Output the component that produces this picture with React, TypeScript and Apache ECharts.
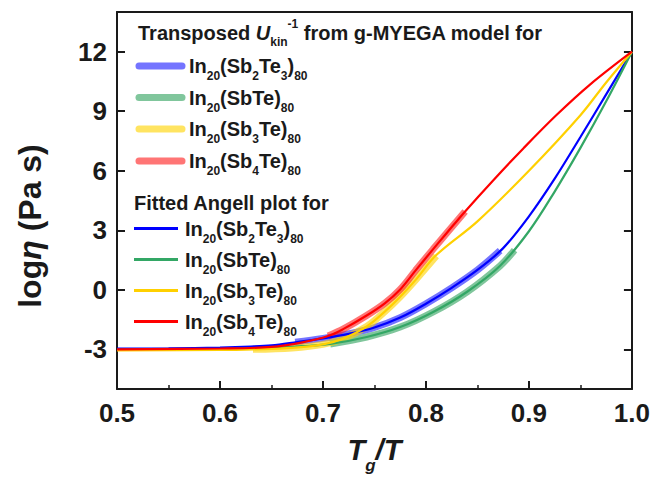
import React, { useEffect, useRef } from 'react';
import * as echarts from 'echarts';

const FONT = "'Liberation Sans', Arial, Helvetica, sans-serif";
const INK = '#1a1a1a';

// ---- data ----
const seriesKeys = ['Sb2Te3', 'SbTe', 'Sb3Te', 'Sb4Te'];
const legendLabels = [
  '{m|In}{s|20}{m|(Sb}{s|2}{m|Te}{s|3}{m|)}{s|80}',
  '{m|In}{s|20}{m|(SbTe)}{s|80}',
  '{m|In}{s|20}{m|(Sb}{s|3}{m|Te)}{s|80}',
  '{m|In}{s|20}{m|(Sb}{s|4}{m|Te)}{s|80}',
];
const thinColors = ['#0000ff', '#33a765', '#ffd000', '#ff0000'];
const thickColors = ['rgba(30,30,255,0.62)', 'rgba(44,160,90,0.6)', 'rgba(255,212,0,0.62)', 'rgba(255,25,25,0.6)'];

const xTickLabels = [0.5, 0.6, 0.7, 0.8, 0.9, 1.0];
const yTickValues = [-3, 0, 3, 6, 9, 12];

// Fitted Angell plot (thin lines) [Tg/T, log eta]
const angellSb2Te3 = [
  [0.5, -2.97], [0.55, -2.95], [0.6, -2.91], [0.63, -2.86], [0.65, -2.8], [0.675, -2.63],
  [0.7, -2.45], [0.725, -2.22], [0.75, -1.9], [0.775, -1.4], [0.8, -0.7], [0.825, 0.1],
  [0.85, 1.0], [0.875, 2.1], [0.9, 3.7], [0.925, 5.6], [0.95, 7.7], [0.975, 9.85], [1.0, 12],
];
const angellSbTe = [
  [0.5, -3.03], [0.6, -2.99], [0.65, -2.92], [0.68, -2.84], [0.707, -2.73], [0.7425, -2.38],
  [0.775, -1.88], [0.807, -1.12], [0.84, -0.1], [0.872, 1.21], [0.9, 2.95], [0.925, 4.95],
  [0.95, 7.15], [0.975, 9.5], [1.0, 12],
];
const angellSb3Te = [
  [0.5, -3.05], [0.6, -3.03], [0.632, -3.0], [0.67, -2.93], [0.7, -2.75], [0.72, -2.45],
  [0.7425, -1.85], [0.76, -1.1], [0.775, -0.35], [0.79, 0.5], [0.81, 1.75], [0.85, 3.45],
  [0.9, 6.0], [0.95, 8.8], [0.975, 10.45], [1.0, 12],
];
const angellSb4Te = [
  [0.5, -3.0], [0.6, -2.96], [0.65, -2.88], [0.68, -2.65], [0.705, -2.33], [0.72, -1.97],
  [0.742, -1.31], [0.76, -0.68], [0.775, 0.02], [0.79, 0.98], [0.807, 2.05], [0.82, 2.85],
  [0.838, 3.95], [0.865, 5.5], [0.895, 7.15], [0.927, 8.82], [0.959, 10.33], [1.0, 12],
];

// Transposed U_kin^-1 from g-MYEGA model (thick translucent segments)
const myegaSb2Te3 = [
  [0.673, -2.64], [0.7, -2.45], [0.725, -2.22], [0.75, -1.9], [0.775, -1.4], [0.8, -0.7],
  [0.825, 0.1], [0.85, 1.0], [0.872, 1.97],
];
const myegaSbTe = [
  [0.707, -2.73], [0.7425, -2.38], [0.775, -1.88], [0.807, -1.12], [0.84, -0.1], [0.872, 1.21],
  [0.886, 2.0],
];
const myegaSb3Te = [
  [0.632, -3.0], [0.67, -2.93], [0.7, -2.75], [0.72, -2.45], [0.7425, -1.85], [0.76, -1.1],
  [0.775, -0.35], [0.79, 0.5], [0.81, 1.7],
];
const myegaSb4Te = [
  [0.705, -2.33], [0.72, -1.97], [0.742, -1.31], [0.76, -0.68], [0.775, 0.02], [0.79, 0.98],
  [0.807, 2.05], [0.82, 2.85], [0.838, 3.95],
];

const angellData = [angellSb2Te3, angellSbTe, angellSb3Te, angellSb4Te];
const myegaData = [myegaSb2Te3, myegaSbTe, myegaSb3Te, myegaSb4Te];

const legendRich = {
  m: { fontSize: 20, fontWeight: 'bold', fontFamily: FONT, fill: INK, color: INK, lineHeight: 32, verticalAlign: 'middle' },
  s: { fontSize: 12, fontWeight: 'bold', fontFamily: FONT, fill: INK, color: INK, lineHeight: 12, verticalAlign: 'bottom' },
};

function buildGraphic() {
  const els: any[] = [];
  // y-axis title
  els.push({
    type: 'text',
    x: 30,
    y: 226,
    rotation: Math.PI / 2,
    style: {
      text: '{a|log}{e|η}{a| (Pa s)}',
      align: 'center', verticalAlign: 'middle', textAlign: 'center', textVerticalAlign: 'middle',
      rich: {
        a: { fontSize: 32, fontWeight: 'bold', fontFamily: FONT, fill: INK, lineHeight: 34 },
        e: { fontSize: 32, fontWeight: 'bold', fontStyle: 'italic', fontFamily: FONT, fill: INK, lineHeight: 34 },
      },
    },
  });
  els.push({
    type: 'text',
    x: 138,
    y: 33,
    style: {
      text: '{b|Transposed }{u|U}{k|kin}{p|-1}{b| from g-MYEGA model for}',
      align: 'left', verticalAlign: 'middle', textAlign: 'left', textVerticalAlign: 'middle',
      rich: {
        b: { fontSize: 20, fontWeight: 'bold', fontFamily: FONT, fill: INK, lineHeight: 30, verticalAlign: 'middle' },
        u: { fontSize: 20, fontWeight: 'bold', fontStyle: 'italic', fontFamily: FONT, fill: INK, lineHeight: 30, verticalAlign: 'middle' },
        k: { fontSize: 12, fontWeight: 'bold', fontFamily: FONT, fill: INK, lineHeight: 12, verticalAlign: 'bottom' },
        p: { fontSize: 12, fontWeight: 'bold', fontFamily: FONT, fill: INK, lineHeight: 19, verticalAlign: 'top' },
      },
    },
  });
  const y1 = [66, 97.5, 129, 161];
  y1.forEach((y, i) => {
    els.push({
      type: 'line',
      shape: { x1: 139, y1: y, x2: 182, y2: y },
      style: { stroke: thickColors[i], lineWidth: 7, lineCap: 'round' },
    });
    els.push({
      type: 'text', x: 189, y,
      style: { text: legendLabels[i], align: 'left', verticalAlign: 'middle', textAlign: 'left', textVerticalAlign: 'middle', rich: legendRich },
    });
  });
  els.push({
    type: 'text', x: 134, y: 202.5,
    style: {
      text: 'Fitted Angell plot for', fill: INK,
      font: `bold 20px ${FONT}`,
      align: 'left', verticalAlign: 'middle', textAlign: 'left', textVerticalAlign: 'middle',
    },
  });
  const y2 = [228.5, 259.5, 290.5, 321.5];
  y2.forEach((y, i) => {
    els.push({
      type: 'line',
      shape: { x1: 134, y1: y, x2: 178, y2: y },
      style: { stroke: thinColors[i], lineWidth: 3 },
    });
    els.push({
      type: 'text', x: 185, y,
      style: { text: legendLabels[i], align: 'left', verticalAlign: 'middle', textAlign: 'left', textVerticalAlign: 'middle', rich: legendRich },
    });
  });
  return els;
}

export default function App() {
  const ref = useRef<HTMLDivElement>(null);
  useEffect(() => {
    if (!ref.current) return;
    const chart = echarts.init(ref.current, undefined, { renderer: 'svg' });
    const axisLineStyle = { color: INK, width: 2 };
    const series: any[] = [];
    myegaData.forEach((d, i) => {
      series.push({
        type: 'line', name: `Transposed Ukin-1 g-MYEGA In20(${seriesKeys[i]})80`,
        data: d, symbol: 'none', showSymbol: false, smooth: 0.35, silent: true,
        lineStyle: { color: thickColors[i], width: 7, cap: 'butt' },
        itemStyle: { color: thickColors[i] }, z: 2,
      });
    });
    angellData.forEach((d, i) => {
      series.push({
        type: 'line', name: `Fitted Angell In20(${seriesKeys[i]})80`,
        data: d, symbol: 'none', showSymbol: false, smooth: 0.35, silent: true,
        lineStyle: { color: thinColors[i], width: 2.2 },
        itemStyle: { color: thinColors[i] }, z: 3,
      });
    });
    const option: any = {
      animation: false,
      backgroundColor: '#ffffff',
      grid: { left: 117, right: 21, top: 12, bottom: 89, containLabel: false },
      xAxis: [
        {
          type: 'value', min: 0.5, max: 1.0, interval: 0.1, position: 'bottom',
          axisLine: { show: true, onZero: false, lineStyle: axisLineStyle },
          axisTick: { show: true, inside: true, length: 8, lineStyle: { color: INK, width: 2 } },
          minorTick: { show: true, splitNumber: 2, length: 4, lineStyle: { color: INK, width: 1.5 } },
          splitLine: { show: false },
          axisLabel: {
            margin: 11, fontSize: 26, fontWeight: 'bold', fontFamily: FONT, color: INK,
            formatter: (v: number) => (xTickLabels.some((t) => Math.abs(t - v) < 1e-6) ? v.toFixed(1) : ''),
          },
          name: '{t|T}{s|g}{t|/T}', nameLocation: 'middle', nameGap: 37,
          nameTextStyle: {
            rich: {
              t: { fontSize: 29, fontWeight: 'bold', fontStyle: 'italic', fontFamily: FONT, color: INK, lineHeight: 48, verticalAlign: 'middle' },
              s: { fontSize: 17, fontWeight: 'bold', fontStyle: 'italic', fontFamily: FONT, color: INK, lineHeight: 17, verticalAlign: 'bottom' },
            },
          },
        },
        {
          type: 'value', min: 0.5, max: 1.0, interval: 0.1, position: 'top',
          axisLine: { show: true, onZero: false, lineStyle: axisLineStyle },
          axisTick: { show: false }, axisLabel: { show: false }, splitLine: { show: false },
        },
      ],
      yAxis: [
        {
          type: 'value', min: -5, max: 14, position: 'left',
          axisLine: { show: true, onZero: false, lineStyle: axisLineStyle },
          axisTick: { show: true, inside: true, length: 8, customValues: yTickValues, lineStyle: { color: INK, width: 2 } },
          axisLabel: { customValues: yTickValues, margin: 10, fontSize: 26, fontWeight: 'bold', fontFamily: FONT, color: INK },
          splitLine: { show: false },
        },
        {
          type: 'value', min: -5, max: 14, position: 'right',
          axisLine: { show: true, onZero: false, lineStyle: axisLineStyle },
          axisTick: { show: true, inside: true, length: 8, customValues: yTickValues, lineStyle: { color: INK, width: 2 } },
          axisLabel: { show: false }, splitLine: { show: false },
        },
      ],
      series,
      graphic: { elements: buildGraphic() },
    };
    chart.setOption(option);
    return () => chart.dispose();
  }, []);
  return (
    <div
      ref={ref}
      style={{ position: 'fixed', left: 0, top: 0, width: 653, height: 479, background: '#fff' }}
    />
  );
}
